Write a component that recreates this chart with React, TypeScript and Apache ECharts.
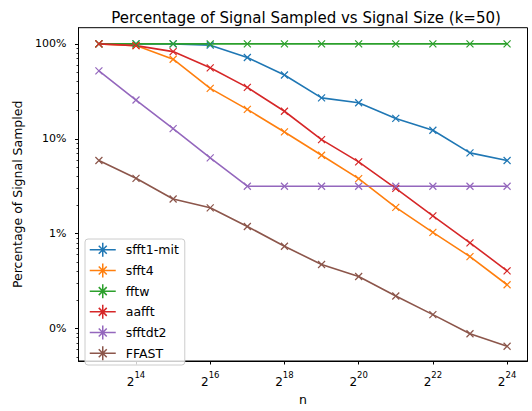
import { useEffect, useRef } from 'react';
import * as echarts from 'echarts';

// Signal sizes n (powers of two, 2^13 .. 2^24)
const signalSizes = [8192, 16384, 32768, 65536, 131072, 262144, 524288, 1048576, 2097152, 4194304, 8388608, 16777216];

// Percentage of the signal sampled by each algorithm
const sfft1Mit = [100, 100, 100, 97, 72, 47, 27, 24, 16.4, 12.3, 7.1, 5.9];
const sfft4 = [100, 96, 69, 34, 20.4, 11.8, 6.7, 3.8, 1.89, 1.03, 0.573, 0.289];
const fftw = [100, 100, 100, 100, 100, 100, 100, 100, 100, 100, 100, 100];
const aafft = [100, 96, 83, 56, 34.8, 19.5, 9.8, 5.7, 3.0, 1.54, 0.8, 0.405];
const sfftdt2 = [52, 25.6, 12.8, 6.3, 3.16, 3.16, 3.16, 3.16, 3.16, 3.16, 3.16, 3.16];
const ffast = [5.9, 3.83, 2.32, 1.87, 1.19, 0.736, 0.472, 0.353, 0.22, 0.14, 0.088, 0.065];

const seriesNames = ['sfft1-mit', 'sfft4', 'fftw', 'aafft', 'sfftdt2', 'FFAST'];
const seriesValues = [sfft1Mit, sfft4, fftw, aafft, sfftdt2, ffast];
const seriesColors = ['#1f77b4', '#ff7f0e', '#2ca02c', '#d62728', '#9467bd', '#8c564b'];

// Axis ticks
const xTickValues = [16384, 65536, 262144, 1048576, 4194304, 16777216];
const yTickValues = [0.1, 1, 10, 100];
const yMinorTickValues = [
  0.05, 0.06, 0.07, 0.08, 0.09,
  0.2, 0.3, 0.4, 0.5, 0.6, 0.7, 0.8, 0.9,
  2, 3, 4, 5, 6, 7, 8, 9,
  20, 30, 40, 50, 60, 70, 80, 90,
];

const FONT = 'DejaVu Sans';
const crossSymbol = 'path://M0,0L10,10M10,0L0,10';
// legend handle: line with a starred marker in the middle
const legendIcon = 'path://M0,7L26,7M13,0L13,14M9,3L17,11M17,3L9,11';

export default function App() {
  const ref = useRef<HTMLDivElement>(null);

  useEffect(() => {
    if (!ref.current) return;
    const chart = echarts.init(ref.current, undefined, { renderer: 'svg' });

    const xMin = Math.pow(2, 12.45);
    const xMax = Math.pow(2, 24.55);
    const yMin = Math.pow(10, -1.343);
    const yMax = Math.pow(10, 2.171);

    chart.setOption({
      animation: false,
      backgroundColor: '#ffffff',
      textStyle: { fontFamily: FONT },
      title: {
        text: 'Percentage of Signal Sampled vs Signal Size (k=50)',
        left: 301,
        top: 5,
        textAlign: 'center',
        textStyle: { fontFamily: FONT, fontSize: 15, fontWeight: 'normal', color: '#000' },
      },
      legend: {
        orient: 'vertical',
        left: 85,
        top: 239,
        padding: [3, 6, 4, 4],
        itemWidth: 26,
        itemHeight: 14,
        itemGap: 5.2,
        backgroundColor: 'rgba(255,255,255,0.8)',
        borderColor: '#cccccc',
        borderWidth: 1,
        borderRadius: 3,
        icon: legendIcon,
        itemStyle: { borderWidth: 1.5 },
        textStyle: { fontFamily: FONT, fontSize: 12.5, color: '#000', padding: [0, 0, 0, 5] },
        data: seriesNames,
      },
      grid: {
        left: 78.5,
        right: 4.5,
        top: 27.7,
        bottom: 48.3,
        show: true,
        borderColor: '#000',
        borderWidth: 1,
        backgroundColor: 'transparent',
      },
      xAxis: {
        type: 'log',
        logBase: 2,
        min: xMin,
        max: xMax,
        name: 'n',
        nameLocation: 'middle',
        nameGap: 32,
        nameTextStyle: { fontFamily: FONT, fontSize: 12.5, color: '#000' },
        axisLine: { lineStyle: { color: '#000', width: 1 } },
        axisTick: { show: true, length: 3.5, inside: false, lineStyle: { color: '#000' }, customValues: xTickValues },
        splitLine: { show: false },
        axisLabel: {
          customValues: xTickValues,
          margin: 9,
          color: '#000',
          formatter: (v: number) => `{b|2}{s|${Math.round(Math.log2(v))}}`,
          rich: {
            b: { fontFamily: FONT, fontSize: 12, color: '#000', verticalAlign: 'bottom', lineHeight: 18 },
            s: { fontFamily: FONT, fontSize: 8.5, color: '#000', verticalAlign: 'top', lineHeight: 18, padding: [0, 0, 6, 0] },
          },
        },
      },
      yAxis: [
        {
          type: 'log',
          logBase: 10,
          min: yMin,
          max: yMax,
          name: 'Percentage of Signal Sampled',
          nameLocation: 'middle',
          nameGap: 51,
          nameTextStyle: { fontFamily: FONT, fontSize: 12.5, color: '#000' },
          axisLine: { show: true, lineStyle: { color: '#000', width: 1 } },
          axisTick: { show: true, length: 3.5, lineStyle: { color: '#000' }, customValues: yTickValues },
          splitLine: { show: false },
          axisLabel: {
            customValues: yTickValues,
            margin: 12,
            color: '#000',
            fontFamily: FONT,
            fontSize: 11,
            formatter: (v: number) => `${Math.round(v)}%`,
          },
        },
        {
          type: 'log',
          logBase: 10,
          min: yMin,
          max: yMax,
          position: 'left',
          offset: 0,
          axisLine: { show: false },
          axisTick: { show: true, length: 2, lineStyle: { color: '#000', width: 0.8 }, customValues: yMinorTickValues },
          axisLabel: { show: false },
          splitLine: { show: false },
        },
      ],
      series: seriesNames.map((name, i) => ({
        name,
        type: 'line',
        xAxisIndex: 0,
        yAxisIndex: 0,
        data: signalSizes.map((n, j) => [n, seriesValues[i][j]]),
        symbol: crossSymbol,
        symbolSize: 7,
        showAllSymbol: true,
        color: seriesColors[i],
        lineStyle: { color: seriesColors[i], width: 1.6 },
        itemStyle: { color: seriesColors[i], borderColor: seriesColors[i], borderWidth: 1.2 },
        emphasis: { disabled: true },
      })),
    });

    return () => chart.dispose();
  }, []);

  return <div ref={ref} style={{ position: 'fixed', left: 0, top: 0, width: 532, height: 411 }} />;
}
